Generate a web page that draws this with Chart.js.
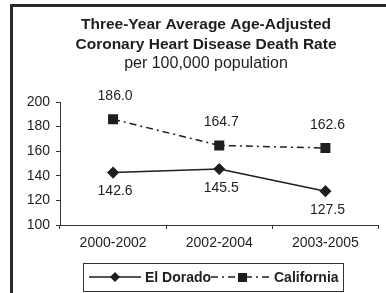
<!DOCTYPE html>
<html>
<head>
<meta charset="utf-8">
<script src="https://cdn.jsdelivr.net/npm/chart.js@4/dist/chart.umd.min.js"></script>
<style>
html, body { margin: 0; padding: 0; background: #fff; }
#wrap { width: 386px; height: 293px; position: relative; }
</style>
</head>
<body>
<div id="wrap"><canvas id="myChart" width="386" height="293"></canvas></div>
<script>
const periods = ["2000-2002", "2002-2004", "2003-2005"];
const elDorado = [142.6, 145.5, 127.5];
const california = [186.0, 164.7, 162.6];
const yTicks = [100, 120, 140, 160, 180, 200];
const titleLines = ["Three-Year Average Age-Adjusted", "Coronary Heart Disease Death Rate"];
const subTitle = "per 100,000 population";

const ink = "#1e1e1e";
const fontFam = "'Liberation Sans', Arial, sans-serif";

// value labels: El Dorado below, California above
const valueLabels = {
  id: 'valueLabels',
  afterDatasetsDraw(chart) {
    const ctx = chart.ctx;
    ctx.save();
    ctx.font = "14px " + fontFam;
    ctx.fillStyle = ink;
    ctx.textAlign = "center";
    ctx.textBaseline = "middle";
    chart.data.datasets.forEach(function(ds, i) {
      const meta = chart.getDatasetMeta(i);
      meta.data.forEach(function(pt, j) {
        const off = i == 0 ? 19 : -23;
        ctx.fillText(ds.data[j].toFixed(1), pt.x + 2, pt.y + off);
      });
    });
    ctx.restore();
  }
};

// frame, title, legend box drawn by hand
const frameLegend = {
  id: 'frameLegend',
  afterDraw(chart) {
    const ctx = chart.ctx;
    ctx.save();
    ctx.strokeStyle = "#2a2a2a";
    ctx.lineWidth = 3;
    ctx.beginPath();
    ctx.moveTo(11.5, 293);
    ctx.lineTo(11.5, 5.5);
    ctx.lineTo(386, 5.5);
    ctx.stroke();

    // title (centred over the framed area, like the original)
    ctx.fillStyle = ink;
    ctx.textAlign = "center";
    ctx.textBaseline = "middle";
    ctx.font = "bold 15.5px " + fontFam;
    ctx.fillText(titleLines[0], 206, 25);
    ctx.fillText(titleLines[1], 206, 45);
    ctx.font = "16px " + fontFam;
    ctx.fillText(subTitle, 206, 64);

    // legend
    ctx.lineWidth = 1;
    ctx.strokeStyle = "#333";
    ctx.strokeRect(83.5, 263.5, 260, 28);
    const ly = 277;
    ctx.strokeStyle = ink;
    ctx.lineWidth = 1.5;
    ctx.setLineDash([]);
    ctx.beginPath(); ctx.moveTo(89, ly); ctx.lineTo(141, ly); ctx.stroke();
    ctx.beginPath();
    ctx.moveTo(115, ly - 5); ctx.lineTo(120, ly); ctx.lineTo(115, ly + 5); ctx.lineTo(110, ly);
    ctx.closePath(); ctx.fill();
    ctx.setLineDash([7, 4, 2, 4]);
    ctx.beginPath(); ctx.moveTo(211, ly); ctx.lineTo(271, ly); ctx.stroke();
    ctx.setLineDash([]);
    ctx.fillRect(238, ly - 4, 9, 9);
    ctx.font = "bold 14px " + fontFam;
    ctx.textAlign = "left";
    ctx.fillText(chart.data.datasets[0].label, 145, ly + 1);
    ctx.fillText(chart.data.datasets[1].label, 274, ly + 1);
    ctx.restore();
  }
};

new Chart("myChart", {
  type: "line",
  data: {
    labels: periods,
    datasets: [{
      label: "El Dorado",
      data: elDorado,
      borderColor: ink,
      backgroundColor: ink,
      borderWidth: 1.5,
      pointStyle: "rectRot",
      pointRadius: 5,
      pointHoverRadius: 5,
      tension: 0
    },
    {
      label: "California",
      data: california,
      borderColor: ink,
      backgroundColor: ink,
      borderWidth: 1.5,
      borderDash: [7, 4, 2, 4],
      pointStyle: "rect",
      pointRadius: 6,
      pointHoverRadius: 6,
      tension: 0
    }]
  },
  options: {
    responsive: false,
    animation: false,
    layout: { padding: { top: 102, right: 4, bottom: 38, left: 0 } },
    scales: {
      x: {
        offset: true,
        grid: { offset: true, drawOnChartArea: false, drawTicks: true, tickLength: 4, color: "#333" },
        border: { color: "#333", width: 1 },
        ticks: { color: ink, font: { size: 14, family: fontFam }, padding: 6, maxRotation: 0 },
        afterFit(scale) { scale.height = 30; }
      },
      y: {
        min: 100,
        max: 200,
        afterBuildTicks(scale) { scale.ticks = yTicks.map(v => ({ value: v })); },
        grid: { drawOnChartArea: false, drawTicks: true, tickLength: 4, color: "#333" },
        border: { color: "#333", width: 1 },
        ticks: { color: ink, font: { size: 14, family: fontFam }, padding: 6 },
        afterFit(scale) { scale.width = 60; }
      }
    },
    plugins: {
      legend: { display: false },
      tooltip: { enabled: false },
      title: { display: false }
    }
  },
  plugins: [valueLabels, frameLegend]
});
</script>
</body>
</html>
